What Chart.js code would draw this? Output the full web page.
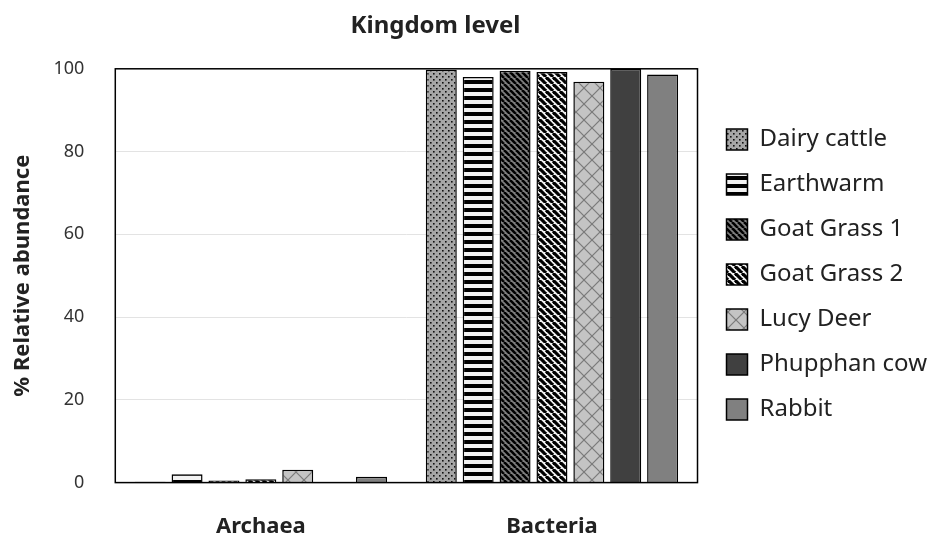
<!DOCTYPE html>
<html>
<head>
<meta charset="utf-8">
<script src="https://cdn.jsdelivr.net/npm/chart.js@4.4.1/dist/chart.umd.min.js"></script>
<style>
html, body { margin: 0; padding: 0; background: #fff; }
#wrap { width: 933px; height: 540px; }
</style>
</head>
<body>
<div id="wrap"><canvas id="kingdomChart" width="933" height="540"></canvas></div>
<script>
var categories = ["Archaea", "Bacteria"];
var sampleNames = ["Dairy cattle", "Earthwarm", "Goat Grass 1", "Goat Grass 2", "Lucy Deer", "Phupphan cow", "Rabbit"];
var dairyCattle = [0.2, 99.8];
var earthwarm = [2.0, 98.0];
var goatGrass1 = [0.5, 99.5];
var goatGrass2 = [0.8, 99.2];
var lucyDeer = [3.1, 96.9];
var phupphanCow = [0.0, 100.0];
var rabbit = [1.4, 98.6];
var yTicks = [0, 20, 40, 60, 80, 100];

var FONT = "'Noto Sans', sans-serif";
var LEGEND_GAP = 8;

// little tiles for the excel-like fill patterns
function makeTile(size, draw) {
    var c = document.createElement("canvas");
    c.width = size; c.height = size;
    var g = c.getContext("2d");
    draw(g, size);
    return g.createPattern(c, "repeat");
}
function diagonal(bg, fg, size, w) {
    return makeTile(size, function(g, s) {
        g.fillStyle = bg; g.fillRect(0, 0, s, s);
        g.strokeStyle = fg; g.lineWidth = w;
        for (var k = -1; k <= 1; k++) {
            g.beginPath(); g.moveTo(k * s, 0); g.lineTo(k * s + s, s); g.stroke();
        }
    });
}
var dotFill = makeTile(6, function(g, s) {
    g.fillStyle = "#a6a6a6"; g.fillRect(0, 0, s, s);
    g.fillStyle = "#111";
    g.fillRect(1, 1, 1.6, 1.6);
    g.fillRect(4, 4, 1.6, 1.6);
});
var stripeFill = makeTile(8, function(g, s) {
    g.fillStyle = "#f2f2f2"; g.fillRect(0, 0, s, s);
    g.fillStyle = "#000"; g.fillRect(0, 0, s, 4);
});
var darkDiag = diagonal("#7f7f7f", "#000", 6, 2.6);
var lightDiag = diagonal("#f2f2f2", "#000", 7, 3.2);
var lattice = makeTile(16, function(g, s) {
    g.fillStyle = "#c4c4c4"; g.fillRect(0, 0, s, s);
    g.strokeStyle = "#7a7a7a"; g.lineWidth = 1.2;
    for (var k = -1; k <= 1; k++) {
        g.beginPath(); g.moveTo(k * s, 0); g.lineTo(k * s + s, s); g.stroke();
        g.beginPath(); g.moveTo(k * s, s); g.lineTo(k * s + s, 0); g.stroke();
    }
});

var seriesValues = [dairyCattle, earthwarm, goatGrass1, goatGrass2, lucyDeer, phupphanCow, rabbit];
var fills = [dotFill, stripeFill, darkDiag, lightDiag, lattice, "#404040", "#808080"];

var datasets = [];
for (var i = 0; i < sampleNames.length; i++) {
    datasets.push({
        label: sampleNames[i],
        data: seriesValues[i],
        backgroundColor: fills[i],
        borderColor: "#000",
        borderWidth: 1.5,
        categoryPercentage: 0.887,
        barPercentage: 0.84
    });
}

var frame = {
    id: "frame",
    beforeInit: function(chart) {
        // leave a small strip between the plot frame and the legend
        var fit = chart.legend.fit;
        chart.legend.fit = function() {
            fit.call(this);
            this.width += LEGEND_GAP;
        };
    },
    afterLayout: function(chart) {
        chart.legend.left += LEGEND_GAP;
        chart.legend.top -= 7;
        chart.legend.bottom -= 7;
        // excel centres the title a bit left of the canvas centre
        chart.titleBlock.left = 0;
        chart.titleBlock.right = 871;
    },
    afterDatasetsDraw: function(chart) {
        var a = chart.chartArea, ctx = chart.ctx;
        ctx.save();
        ctx.strokeStyle = "#000";
        ctx.lineWidth = 1.5;
        ctx.strokeRect(a.left, a.top, a.right - a.left, a.bottom - a.top);
        ctx.restore();
    }
};

new Chart("kingdomChart", {
    type: "bar",
    data: { labels: categories, datasets: datasets },
    plugins: [frame],
    options: {
        responsive: false,
        animation: false,
        layout: { padding: { left: 0, right: -4, top: 0, bottom: -23 } },
        plugins: {
            title: {
                display: true,
                text: "Kingdom level",
                color: "#222",
                font: { family: FONT, size: 24, weight: "bold" },
                padding: { top: 12, bottom: 28 }
            },
            legend: {
                position: "right",
                labels: {
                    boxWidth: 21,
                    boxHeight: 21,
                    padding: 21,
                    color: "#222",
                    font: { family: FONT, size: 24 }
                }
            },
            tooltip: { enabled: false }
        },
        scales: {
            x: {
                grid: { display: false },
                border: { display: false },
                ticks: {
                    color: "#222",
                    padding: 23,
                    font: { family: FONT, size: 22, weight: "bold" }
                }
            },
            y: {
                min: 0,
                max: 100,
                afterBuildTicks: function(axis) {
                    axis.ticks = yTicks.map(function(v) { return { value: v }; });
                },
                grid: { color: "#e3e3e3", drawTicks: false },
                border: { display: false },
                ticks: {
                    color: "#333",
                    padding: 31,
                    font: { family: FONT, size: 18 }
                },
                title: {
                    display: true,
                    text: "% Relative abundance",
                    color: "#222",
                    font: { family: FONT, size: 22, weight: "bold" },
                    padding: { top: 10, bottom: -14 }
                }
            }
        }
    }
});
</script>
</body>
</html>
